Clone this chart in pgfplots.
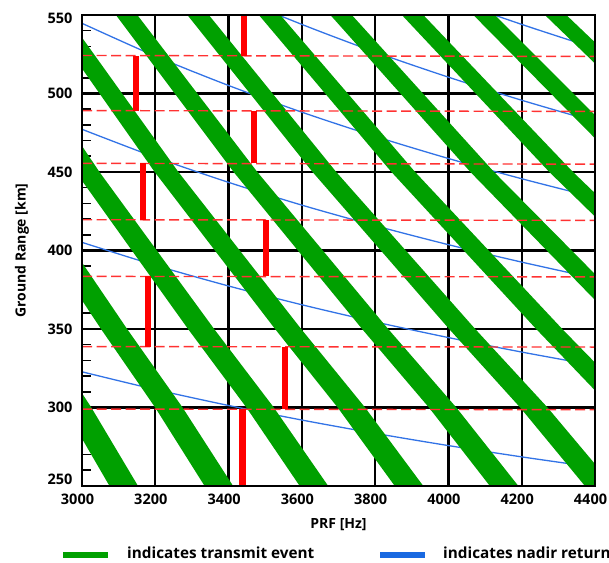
\documentclass[border=0pt]{standalone}
\usepackage{fontspec}
\setmainfont{Open Sans}
\usepackage{pgfplots}
\pgfplotsset{compat=1.18}
\definecolor{tgreen}{RGB}{0,160,0}
\definecolor{nblue}{RGB}{50,115,230}
\definecolor{lblue}{RGB}{25,105,225}
\definecolor{dred}{RGB}{255,50,50}
\begin{document}
\begin{tikzpicture}
\useasboundingbox (0,0) rectangle (609bp,563bp);
\begin{axis}[
  at={(82bp,77bp)}, anchor=south west,
  width=513bp, height=471bp, scale only axis,
  xmin=3000, xmax=4400, ymin=250, ymax=550,
  xtick={3000,3200,...,4400}, ytick={250,300,...,550},
  yticklabels={\raisebox{7bp}[\height][\depth]{250},300,350,400,450,500,\raisebox{-3bp}[\height][\depth]{550}},
  minor ytick={260,270,...,540},
  grid=major, major grid style={black, line width=2.2bp},
  axis line style={black, line width=2bp},
  tick align=inside, xtick pos=bottom, ytick pos=left,
  major tick length=0pt, minor tick length=9bp,
  minor tick style={black, line width=1.6bp},
  tick label style={font=\fontsize{14.5bp}{16bp}\selectfont\bfseries},
  yticklabel style={xshift=-6bp},
  xticklabel style={yshift=-4bp, xshift=-4.5bp},
  /pgf/number format/assume math mode=true,
  /pgf/number format/set thousands separator={},
  xlabel={PRF [Hz]}, ylabel={Ground Range [km]},
  label style={font=\fontsize{14bp}{16bp}\selectfont\bfseries},
  xlabel style={at={(axis description cs:0.5,-0.0828)}, anchor=center},
  ylabel style={at={(axis description cs:-0.117,0.5)}, anchor=center},
]
% nadir returns (blue)
\addplot[nblue, line width=1.3bp, smooth] coordinates {(3000,322.74) (3200,311.47) (3400,301.28) (3600,292.01) (3800,283.54) (4000,275.74) (4200,268.55) (4400,261.88)};
\addplot[nblue, line width=1.3bp, smooth] coordinates {(3000,405.18) (3200,390.56) (3400,377.39) (3600,365.44) (3800,354.53) (4000,344.53) (4200,335.31) (4400,326.78)};
\addplot[nblue, line width=1.3bp, smooth] coordinates {(3000,477.2) (3200,459.4) (3400,443.4) (3600,428.9) (3800,415.8) (4000,403.7) (4200,392.6) (4400,382.3)};
\addplot[nblue, line width=1.3bp, smooth] coordinates {(3000,544.7) (3200,523.8) (3400,505.1) (3600,488.1) (3800,472.7) (4000,458.6) (4200,445.7) (4400,433.8)};
\addplot[nblue, line width=1.3bp, smooth] coordinates {(3000,608.7) (3200,584.8) (3400,563.3) (3600,544.0) (3800,526.4) (4000,510.4) (4200,495.7) (4400,482.1)};
\addplot[nblue, line width=1.3bp, smooth] coordinates {(3800,578.4) (4000,560.4) (4200,544.0) (4400,528.8)};
% transmit events (green bands)
\addplot[fill=tgreen, draw=none] coordinates {(3075.1,250) (2950.7,300) (2814.4,350) (2552.3,450) (2312.1,550) (2370.6,550) (2616.9,450) (2885.6,350) (3025.4,300) (3152.9,250)} -- cycle;
\addplot[fill=tgreen, draw=none] coordinates {(3334.6,250) (3199.7,300) (3051.9,350) (2767.6,450) (2507.2,550) (2565.7,550) (2832.3,450) (3123.1,350) (3274.4,300) (3412.4,250)} -- cycle;
\addplot[fill=tgreen, draw=none] coordinates {(3594.1,250) (3448.7,300) (3289.4,350) (2983.0,450) (2702.3,550) (2760.8,550) (3047.6,450) (3360.6,350) (3523.4,300) (3671.9,250)} -- cycle;
\addplot[fill=tgreen, draw=none] coordinates {(3853.6,250) (3697.7,300) (3526.9,350) (3198.4,450) (2897.4,550) (2955.9,550) (3263.0,450) (3598.1,350) (3772.4,300) (3931.4,250)} -- cycle;
\addplot[fill=tgreen, draw=none] coordinates {(4113.1,250) (3946.7,300) (3764.4,350) (3413.8,450) (3092.5,550) (3151.0,550) (3478.4,450) (3835.6,350) (4021.4,300) (4190.9,250)} -- cycle;
\addplot[fill=tgreen, draw=none] coordinates {(4372.6,250) (4195.7,300) (4001.9,350) (3629.2,450) (3287.6,550) (3346.1,550) (3693.8,450) (4073.1,350) (4270.4,300) (4450.4,250)} -- cycle;
\addplot[fill=tgreen, draw=none] coordinates {(4632.1,250) (4444.7,300) (4239.4,350) (3844.5,450) (3482.7,550) (3541.2,550) (3909.1,450) (4310.6,350) (4519.4,300) (4709.9,250)} -- cycle;
\addplot[fill=tgreen, draw=none] coordinates {(4891.6,250) (4693.7,300) (4476.9,350) (4059.9,450) (3677.8,550) (3736.4,550) (4124.5,450) (4548.1,350) (4768.4,300) (4969.4,250)} -- cycle;
\addplot[fill=tgreen, draw=none] coordinates {(5151.1,250) (4942.7,300) (4714.4,350) (4275.3,450) (3872.9,550) (3931.5,550) (4339.9,450) (4785.6,350) (5017.4,300) (5228.9,250)} -- cycle;
\addplot[fill=tgreen, draw=none] coordinates {(5410.6,250) (5191.7,300) (4951.9,350) (4490.7,450) (4068.0,550) (4126.6,550) (4555.3,450) (5023.1,350) (5266.4,300) (5488.4,250)} -- cycle;
\addplot[fill=tgreen, draw=none] coordinates {(5670.1,250) (5440.7,300) (5189.4,350) (4706.1,450) (4263.2,550) (4321.7,550) (4770.7,450) (5260.6,350) (5515.4,300) (5747.9,250)} -- cycle;
% sub-swath boundaries (red dashed)
\addplot[dred, line width=1.4bp, dash pattern=on 10bp off 4.5bp] coordinates {(3000,524.2) (4400,523.6)};
\addplot[dred, line width=1.4bp, dash pattern=on 10bp off 4.5bp] coordinates {(3000,489.1) (4400,488.6)};
\addplot[dred, line width=1.4bp, dash pattern=on 10bp off 4.5bp] coordinates {(3000,455.5) (4400,455.0)};
\addplot[dred, line width=1.4bp, dash pattern=on 10bp off 4.5bp] coordinates {(3000,419.6) (4400,419.2)};
\addplot[dred, line width=1.4bp, dash pattern=on 10bp off 4.5bp] coordinates {(3000,383.5) (4400,383.2)};
\addplot[dred, line width=1.4bp, dash pattern=on 10bp off 4.5bp] coordinates {(3000,338.8) (4400,338.5)};
\addplot[dred, line width=1.4bp, dash pattern=on 10bp off 4.5bp] coordinates {(3000,299.0) (4400,298.6)};
% selected PRFs (red bars)
\addplot[red, line width=6.5bp] coordinates {(3438,250) (3438,299.0)};
\addplot[red, line width=6.5bp] coordinates {(3554,299.0) (3554,338.8)};
\addplot[red, line width=6.5bp] coordinates {(3180,338.8) (3180,383.5)};
\addplot[red, line width=6.5bp] coordinates {(3502,383.5) (3502,419.6)};
\addplot[red, line width=6.5bp] coordinates {(3166,419.6) (3166,455.5)};
\addplot[red, line width=6.5bp] coordinates {(3469,455.5) (3469,489.1)};
\addplot[red, line width=6.5bp] coordinates {(3148,489.1) (3148,524.2)};
\addplot[red, line width=6.5bp] coordinates {(3442,524.2) (3442,550)};
\draw[black, line width=2bp] (rel axis cs:0,0) rectangle (rel axis cs:1,1);
\end{axis}
% legend
\draw[tgreen, line width=5.5bp] (63bp,8bp) -- (108bp,8bp);
\node[anchor=base west, inner sep=0pt, font=\fontsize{15.3bp}{17bp}\selectfont\bfseries] at (127bp,4.5bp) {indicates transmit event};
\draw[lblue, line width=5.5bp] (380bp,8bp) -- (425bp,8bp);
\node[anchor=base west, inner sep=0pt, font=\fontsize{15.3bp}{17bp}\selectfont\bfseries] at (443bp,4.5bp) {indicates nadir return};
\end{tikzpicture}
\end{document}
